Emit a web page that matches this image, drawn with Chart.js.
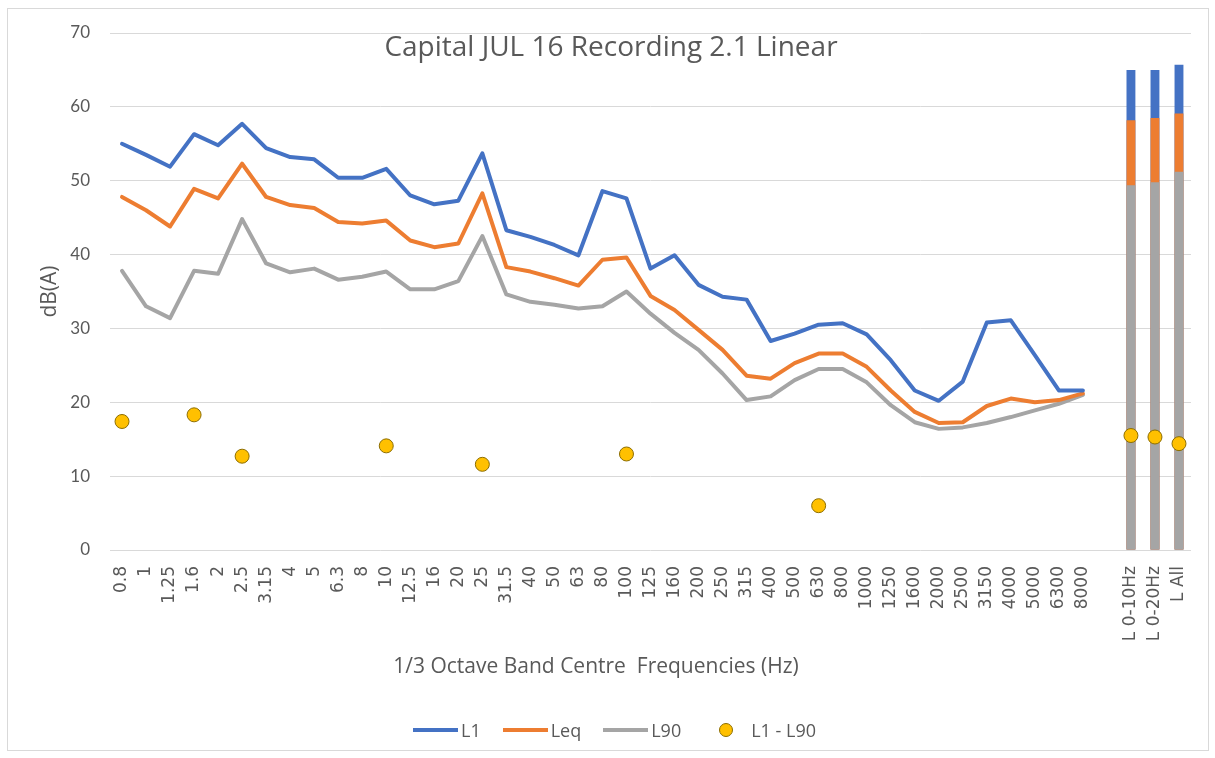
<!DOCTYPE html>
<html>
<head>
<meta charset="utf-8">
<script src="https://cdn.jsdelivr.net/npm/chart.js@4.4.0/dist/chart.umd.min.js"></script>
<style>
  body { margin: 0; background: #fff; font-family: Lato, sans-serif; }
  .frame { position: absolute; left: 7px; top: 8px; width: 1200px; height: 741px; border: 1px solid #d9d9d9; }
  .legend { position: absolute; left: 0; top: 718px; width: 1215px; padding-left: 14px; box-sizing: border-box;
            display: flex; justify-content: center; align-items: center; gap: 22px;
            font-family: "Open Sans", sans-serif; font-size: 18px; color: #595959; }
  .legend .item { display: flex; align-items: center; }
  .legend .line { width: 45px; height: 4px; margin-right: 3px; }
  .legend .dotbox { width: 45px; display: flex; justify-content: center; margin-right: 3px; }
  .legend .dot { width: 12px; height: 12px; border-radius: 50%; border: 1px solid #8c6d00; }
</style>
</head>
<body>
<div class="frame"><canvas id="noiseChart"></canvas></div>
<div class="legend" id="legend"></div>
<script>
// Band centre frequencies (Hz) plus the overall summary columns
const freqLabels = ['0.8', '1', '1.25', '1.6', '2', '2.5', '3.15', '4', '5', '6.3', '8', '10', '12.5', '16', '20',
  '25', '31.5', '40', '50', '63', '80', '100', '125', '160', '200', '250', '315', '400', '500', '630', '800',
  '1000', '1250', '1600', '2000', '2500', '3150', '4000', '5000', '6300', '8000'];
const summaryLabels = ['L 0-10Hz', 'L 0-20Hz', 'L All'];
const categories = [...freqLabels, '', ...summaryLabels];

// per band levels, dB(A)
const l1Band = [55.0, 53.5, 51.9, 56.3, 54.8, 57.7, 54.4, 53.2, 52.9, 50.4, 50.4, 51.6, 48.0, 46.8, 47.3,
  53.7, 43.3, 42.4, 41.3, 39.9, 48.6, 47.6, 38.1, 39.9, 35.9, 34.3, 33.9, 28.3, 29.3, 30.5, 30.7,
  29.2, 25.7, 21.6, 20.2, 22.8, 30.8, 31.1, 26.4, 21.6, 21.6];
const leqBand = [47.8, 46.0, 43.8, 48.9, 47.6, 52.3, 47.8, 46.7, 46.3, 44.4, 44.2, 44.6, 41.9, 41.0, 41.5,
  48.3, 38.3, 37.7, 36.8, 35.8, 39.3, 39.6, 34.4, 32.5, 29.8, 27.1, 23.6, 23.2, 25.3, 26.6, 26.6,
  24.8, 21.6, 18.7, 17.2, 17.3, 19.5, 20.5, 20.0, 20.3, 21.2];
const l90Band = [37.8, 33.0, 31.4, 37.8, 37.4, 44.8, 38.8, 37.6, 38.1, 36.6, 37.0, 37.7, 35.3, 35.3, 36.4,
  42.5, 34.6, 33.6, 33.2, 32.7, 33.0, 35.0, 32.0, 29.4, 27.1, 23.9, 20.3, 20.8, 23.0, 24.5, 24.5,
  22.7, 19.6, 17.3, 16.4, 16.6, 17.2, 18.0, 18.9, 19.8, 21.0];

// overall levels for the summary columns
const l1Total = [65.0, 65.0, 65.7];
const leqTotal = [58.2, 58.5, 59.1];
const l90Total = [49.4, 49.8, 51.2];

// L1 - L90 spot values (one per category, gaps where not shown)
const l1MinusL90 = [17.4, null, null, 18.3, null, 12.7, null, null, null, null, null, 14.1, null, null, null,
  11.6, null, null, null, null, null, 13.0, null, null, null, null, null, null, null, 6.0, null,
  null, null, null, null, null, null, null, null, null, null, null, 15.5, 15.3, 14.4];

const yTicks = [0, 10, 20, 30, 40, 50, 60, 70];

const chartTitle = 'Capital JUL 16 Recording 2.1 Linear';
const xTitle = '1/3 Octave Band Centre  Frequencies (Hz)';
const yTitle = 'dB(A)';

const colors = { l1: '#4472C4', leq: '#ED7D31', l90: '#A5A5A5', diff: '#FFC000' };
const textColor = '#595959';

const gap = n => Array(n).fill(null);
const lineData = band => [...band, ...gap(categories.length - band.length)];
const barData = totals => [...gap(categories.length - totals.length), ...totals];

function lineSet(label, band, color) {
  return {
    type: 'line', label, data: lineData(band), order: 1,
    borderColor: color, backgroundColor: color, borderWidth: 4,
    borderJoinStyle: 'round', borderCapStyle: 'round', pointRadius: 0, tension: 0
  };
}
function barSet(label, totals, color, order) {
  return {
    type: 'bar', label, data: barData(totals), order,
    backgroundColor: color, grouped: false, categoryPercentage: 1, barPercentage: 0.37
  };
}

// titles sit inside the plot like the Excel original
const overlayTitles = {
  id: 'overlayTitles',
  afterDraw(chart) {
    const { ctx, chartArea } = chart;
    ctx.save();
    ctx.fillStyle = textColor;
    ctx.textAlign = 'center';
    ctx.textBaseline = 'middle';
    ctx.font = '28px "Open Sans"';
    ctx.fillText(chartTitle, chart.width / 2 + 3, chartArea.top + 15);
    ctx.font = '21px "Open Sans"';
    ctx.fillText(xTitle, chart.width / 2 - 12, chartArea.bottom + 117);
    ctx.restore();
  }
};

const ctx = document.getElementById('noiseChart');
new Chart(ctx, {
  data: {
    labels: categories,
    datasets: [
      {
        type: 'line', label: 'L1 - L90', data: l1MinusL90, order: 0, showLine: false,
        pointRadius: 7, pointHoverRadius: 7, pointBackgroundColor: colors.diff,
        pointBorderColor: '#8c6d00', pointBorderWidth: 1
      },
      lineSet('L1', l1Band, colors.l1),
      lineSet('Leq', leqBand, colors.leq),
      lineSet('L90', l90Band, colors.l90),
      barSet('L90 total', l90Total, colors.l90, 2),
      barSet('Leq total', leqTotal, colors.leq, 3),
      barSet('L1 total', l1Total, colors.l1, 4)
    ]
  },
  options: {
    responsive: true,
    maintainAspectRatio: false,
    animation: false,
    layout: { padding: { top: 24, right: 17, bottom: 70, left: 0 } },
    plugins: {
      legend: { display: false },
      tooltip: { enabled: false }
    },
    scales: {
      x: {
        offset: true,
        grid: { display: false },
        border: { display: false },
        ticks: {
          autoSkip: false, minRotation: 90, maxRotation: 90, padding: 8,
          color: textColor, font: { family: 'DejaVu Sans', size: 17 }
        },
        afterFit(scale) { scale.height = 130; }
      },
      y: {
        min: yTicks[0],
        max: yTicks[yTicks.length - 1],
        afterBuildTicks(scale) { scale.ticks = yTicks.map(v => ({ value: v })); },
        ticks: { padding: 20, color: textColor, font: { family: 'Lato', size: 17 } },
        grid: { color: '#d9d9d9', drawTicks: false },
        border: { display: false },
        title: {
          display: true, text: yTitle, color: textColor,
          font: { family: 'Open Sans', size: 21 }, padding: { top: 29, bottom: 0 }
        },
        afterFit(scale) {
          scale.width = 102;
          // tick padding should not push the plot down
          scale.paddingTop = 10;
          scale.paddingBottom = 10;
        }
      }
    }
  },
  plugins: [overlayTitles]
});

// Legend - only the four plotted series
const legendItems = [
  { label: 'L1', color: colors.l1, kind: 'line' },
  { label: 'Leq', color: colors.leq, kind: 'line' },
  { label: 'L90', color: colors.l90, kind: 'line' },
  { label: 'L1 - L90', color: colors.diff, kind: 'dot' }
];
document.getElementById('legend').innerHTML = legendItems.map(item => item.kind === 'line'
  ? `<div class="item"><span class="line" style="background:${item.color}"></span>${item.label}</div>`
  : `<div class="item"><span class="dotbox"><span class="dot" style="background:${item.color}"></span></span>${item.label}</div>`
).join('');
</script>
</body>
</html>
